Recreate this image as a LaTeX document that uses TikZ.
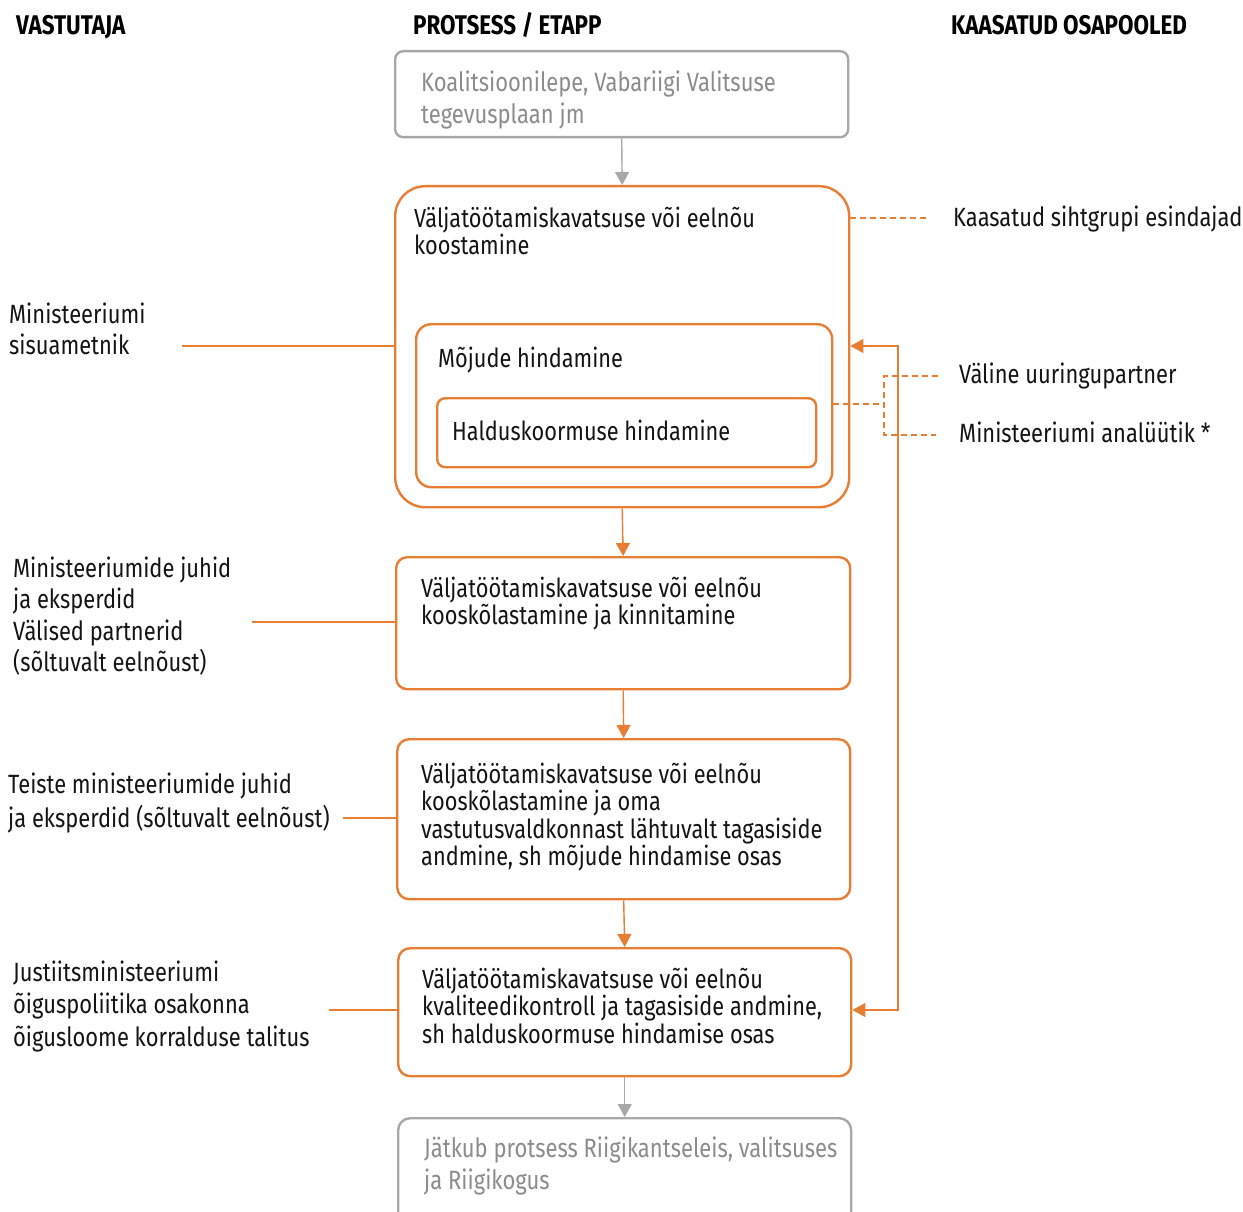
\documentclass[tikz,border=0pt]{standalone}
\usepackage{fontspec}
\setmainfont[FakeStretch=0.83]{Fira Sans}
\usetikzlibrary{arrows.meta}
\definecolor{org}{RGB}{232,125,52}
\definecolor{gbd}{RGB}{168,168,168}
\definecolor{gtx}{RGB}{140,140,140}
\definecolor{ink}{RGB}{20,20,20}
\newcommand\fl{\rule{0pt}{26pt}}
\lineskiplimit=-50pt
\tikzset{
  box/.style={draw=org, line width=2.4pt, anchor=north west, inner sep=0pt, fill=white},
  graybox/.style={draw=gbd, line width=2.4pt, anchor=north west, inner sep=0pt, fill=white},
  txt/.style={anchor=north west, inner sep=0pt, align=left, text=ink,
     font=\fontsize{26.2}{27.5}\selectfont},
  gtxt/.style={txt, text=gtx, font=\fontsize{26.5}{32}\selectfont},
  lbl/.style={anchor=north west, inner sep=0pt, align=left, text=ink,
     font=\fontsize{26.4}{31.5}\selectfont},
  hdr/.style={anchor=north west, inner sep=0pt, text=black, font=\fontsize{27}{30}\selectfont\bfseries},
  flow/.style={draw=org, line width=1.4pt, -{Triangle[width=14pt,length=13pt]}},
  gflow/.style={draw=gbd, line width=1.4pt, -{Triangle[width=14pt,length=13pt]}},
  fb/.style={draw=org, line width=1.4pt, {Triangle[width=14pt,length=13pt]}-{Triangle[width=14pt,length=13pt]}},
  link/.style={draw=org, line width=1.3pt},
  dsh/.style={draw=org, line width=1.2pt, dash pattern=on 6pt off 4pt},
}
\begin{document}
\begin{tikzpicture}[x=1pt,y=-1pt]
\lineskiplimit=-50pt
\useasboundingbox[fill=white] (0,0) rectangle (1243,1212);

% headers
\node[hdr] (h1) at (16,34-26) {\fl VASTUTAJA};
\node[hdr] (h2) at (413,34-26) {\fl PROTSESS / ETAPP};
\node[hdr] (h3) at (951,34-26) {\fl KAASATUD OSAPOOLED};

% boxes
\node[graybox, rounded corners=8pt, minimum width=453pt, minimum height=86pt] (b0) at (394,50) {};
\node[box, rounded corners=30pt, minimum width=454pt, minimum height=321pt] (b1) at (394,185) {};
\node[box, rounded corners=15pt, minimum width=416pt, minimum height=163pt] (bm) at (415,323) {};
\node[box, rounded corners=8pt, minimum width=379pt, minimum height=69pt] (bh) at (436,397) {};
\node[box, rounded corners=11pt, minimum width=454pt, minimum height=132pt] (b2) at (395,556) {};
\node[box, rounded corners=12pt, minimum width=453pt, minimum height=160pt] (b3) at (396,738) {};
\node[box, rounded corners=12pt, minimum width=453pt, minimum height=128pt] (b4) at (397,947) {};
\node[graybox, rounded corners=12pt, minimum width=453pt, minimum height=130pt] (b5) at (397,1117) {};

% box texts
\node[gtxt] (t0) at (421,91-26) {\fl Koalitsioonilepe, Vabariigi Valitsuse\\tegevusplaan jm};
\node[txt] (t1) at (414,227-26) {\fl Väljatöötamiskavatsuse või eelnõu\\koostamine};
\node[txt] (tm) at (438,367-26) {\fl Mõjude hindamine};
\node[txt] (th) at (452,440-26) {\fl Halduskoormuse hindamine};
\node[txt] (t2) at (421,597-26) {\fl Väljatöötamiskavatsuse või eelnõu\\kooskõlastamine ja kinnitamine};
\node[txt] (t3) at (421,783-26) {\fl Väljatöötamiskavatsuse või eelnõu\\kooskõlastamine ja oma\\vastutusvaldkonnast lähtuvalt tagasiside\\andmine, sh mõjude hindamise osas};
\node[txt] (t4) at (422,988-26) {\fl Väljatöötamiskavatsuse või eelnõu\\kvaliteedikontroll ja tagasiside andmine,\\sh halduskoormuse hindamise osas};
\node[gtxt] (t5) at (424,1157-26) {\fl Jätkub protsess Riigikantseleis, valitsuses\\ja Riigikogus};

% flow arrows
\draw[gflow] (b0.south) -- (b1.north);
\draw[flow] (b1.south) -- (b2.north);
\draw[flow] (b2.south) -- (b3.north);
\draw[flow] (b3.south) -- (b4.north);
\draw[gflow] (b4.south) -- (b5.north);

% feedback loop
\coordinate (f1) at (898,346);
\coordinate (f2) at (898,1010);
\draw[fb] (f1 -| b1.east) -- (f1) -- (f2) -- (f2 -| b4.east);

% left labels
\node[lbl] (l1) at (9,323-26) {\fl Ministeeriumi\\sisuametnik};
\node[lbl] (l2) at (13,577-26) {\fl Ministeeriumide juhid\\ja eksperdid\\Välised partnerid\\(sõltuvalt eelnõust)};
\node[lbl, font=\fontsize{26.4}{34.5}\selectfont] (l3) at (8,793-26) {\fl Teiste ministeeriumide juhid\\ja eksperdid (sõltuvalt eelnõust)};
\node[lbl, font=\fontsize{26.4}{32.5}\selectfont] (l4) at (13,981-26) {\fl Justiitsministeeriumi\\õiguspoliitika osakonna\\õigusloome korralduse talitus};

\coordinate (c1) at (182,346);
\coordinate (c2) at (252,622);
\coordinate (c3) at (343,818);
\coordinate (c4) at (329,1010);
\draw[link] (c1) -- (c1 -| b1.west);
\draw[link] (c2) -- (c2 -| b2.west);
\draw[link] (c3) -- (c3 -| b3.west);
\draw[link] (c4) -- (c4 -| b4.west);

% right labels
\node[lbl] (r1) at (953,226-26) {\fl Kaasatud sihtgrupi esindajad};
\node[lbl] (r2) at (959,383-26) {\fl Väline uuringupartner};
\node[lbl] (r3) at (959,442-26) {\fl Ministeeriumi analüütik *};

\coordinate (k1) at (930,218);
\draw[dsh] (k1 -| b1.east) -- (k1);
\coordinate (dj) at (884,404);
\coordinate (v1) at (938,376);
\coordinate (v2) at (936,435);
\draw[dsh] (dj -| bm.east) -- (dj);
\draw[dsh] (v1) -- (v1 -| dj) -- (v2 -| dj) -- (v2);
\end{tikzpicture}
\end{document}
